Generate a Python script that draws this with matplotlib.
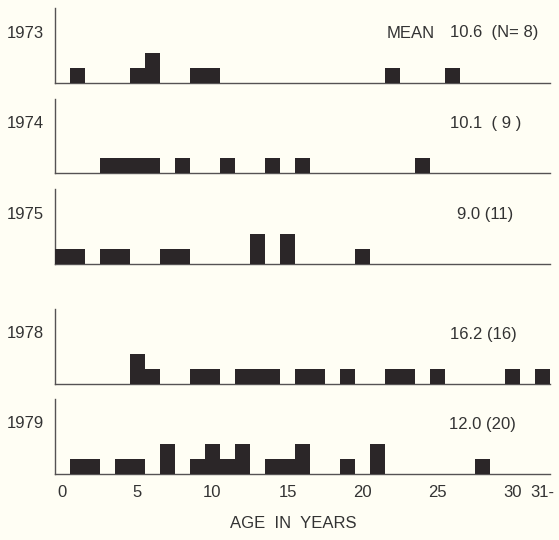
import matplotlib
matplotlib.use("Agg")
import matplotlib.pyplot as plt

# ---- data ----
years = ["1973", "1974", "1975", "1978", "1979"]
# age bins (the "31+" class is drawn at bin position 32)
ages_1973 = [1, 5, 6, 9, 10, 22, 26]
counts_1973 = [1, 1, 2, 1, 1, 1, 1]
ages_1974 = [3, 4, 5, 6, 8, 11, 14, 16, 24]
counts_1974 = [1, 1, 1, 1, 1, 1, 1, 1, 1]
ages_1975 = [0, 1, 3, 4, 7, 8, 13, 15, 20]
counts_1975 = [1, 1, 1, 1, 1, 1, 2, 2, 1]
ages_1978 = [5, 6, 9, 10, 12, 13, 14, 16, 17, 19, 22, 23, 25, 30, 32]
counts_1978 = [2, 1, 1, 1, 1, 1, 1, 1, 1, 1, 1, 1, 1, 1, 1]
ages_1979 = [1, 2, 4, 5, 7, 9, 10, 11, 12, 14, 15, 16, 19, 21, 28]
counts_1979 = [1, 1, 1, 1, 2, 1, 2, 1, 2, 1, 1, 2, 1, 2, 1]
annotations = ["10.6  (N= 8)", "10.1  ( 9 )", "9.0 (11)", "16.2 (16)", "12.0 (20)"]
tick_values = [0, 5, 10, 15, 20, 25, 30, 32]
tick_labels = ["0", "5", "10", "15", "20", "25", "30", "31-"]
xlabel = "AGE  IN  YEARS"

all_ages = [ages_1973, ages_1974, ages_1975, ages_1978, ages_1979]
all_counts = [counts_1973, counts_1974, counts_1975, counts_1978, counts_1979]

# ---- layout (pixels) ----
W, H = 559, 540
BG = "#fffef4"
BAR = "#2b2628"
LINE = "#555253"
TXT = "#333333"
FONT = "Liberation Sans"
FS = 12

fig = plt.figure(figsize=(W / 100, H / 100), dpi=100, facecolor=BG)

panel_tops = [8, 99, 189, 309, 399]
panel_bottoms = [83, 173, 264, 384, 474]
left_px, right_px = 55, 550
ann_x = [450, 450, 457, 450, 449]

for i, year in enumerate(years):
    top, bot = panel_tops[i], panel_bottoms[i]
    ax = fig.add_axes([left_px / W, (H - bot) / H, (right_px - left_px) / W, (bot - top) / H])
    ax.set_facecolor(BG)
    ax.bar(all_ages[i], all_counts[i], width=1.0, color=BAR, linewidth=0, align="center", zorder=3)
    ax.set_xlim(-0.5, 32.5)
    ax.set_ylim(0, 5)
    for s in ["top", "right"]:
        ax.spines[s].set_visible(False)
    for s in ["left", "bottom"]:
        ax.spines[s].set_color(LINE)
        ax.spines[s].set_linewidth(1.0)
    ax.set_yticks([])
    if i == len(years) - 1:
        ax.set_xticks(tick_values)
        ax.set_xticklabels(tick_labels, fontsize=FS, family=FONT, color=TXT)
        ax.tick_params(axis="x", length=0, pad=8)
    else:
        ax.set_xticks([])
    ypos = top + (bot - top) / 3.0
    fig.text(25 / W, 1 - ypos / H, year, ha="center", va="center",
             fontsize=FS, family=FONT, color=TXT)
    fig.text(ann_x[i] / W, 1 - ypos / H, annotations[i], ha="left", va="center",
             fontsize=FS, family=FONT, color=TXT)
    if i == 0:
        fig.text(435 / W, 1 - ypos / H, "MEAN", ha="right", va="center",
                 fontsize=FS, family=FONT, color=TXT)

fig.text(293 / W, 1 - 523 / H, xlabel, ha="center", va="center",
         fontsize=FS, family=FONT, color=TXT)

fig.savefig("out.png", dpi=100, facecolor=BG)
